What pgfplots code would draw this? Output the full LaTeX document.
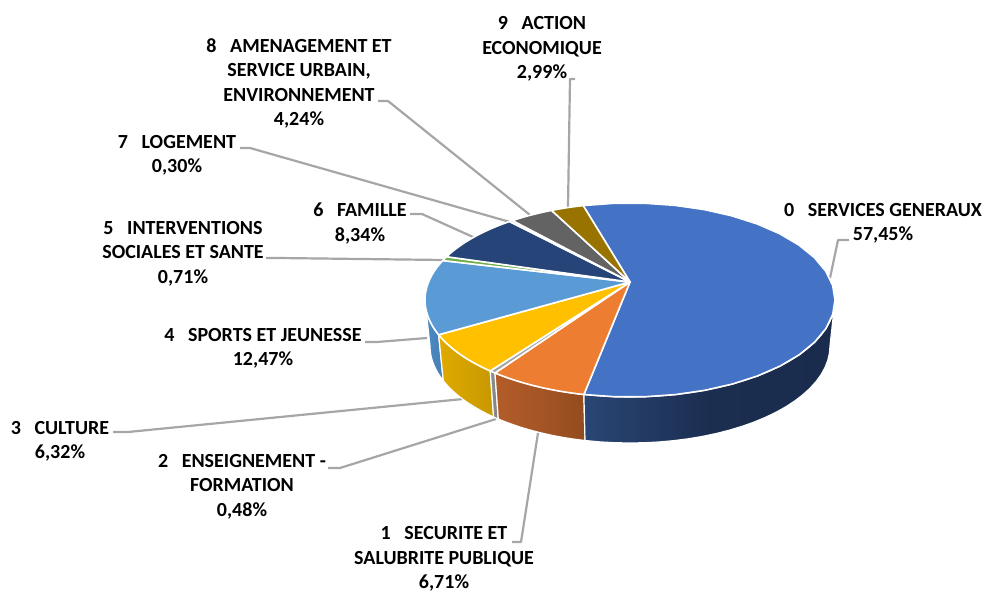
\documentclass[border=0pt]{standalone}
\usepackage{pgfplots}
\pgfplotsset{compat=1.18}
\usepackage{fontspec}
\setmainfont{Carlito}

\definecolor{cServ}{HTML}{4472C4}
\definecolor{cSecu}{HTML}{ED7D31}
\definecolor{cEns}{HTML}{A5A5A5}
\definecolor{cCult}{HTML}{FFC000}
\definecolor{cSport}{HTML}{5B9BD5}
\definecolor{cInter}{HTML}{70AD47}
\definecolor{cFam}{HTML}{264478}
\definecolor{cLog}{HTML}{E9B08C}
\definecolor{cAmen}{HTML}{636363}
\definecolor{cEco}{HTML}{997300}
\definecolor{cLead}{HTML}{A6A6A6}
% wall shades, left, middle and right
\definecolor{wSportA}{HTML}{4C8AC4}
\definecolor{wSportM}{HTML}{4985BC}
\definecolor{wSportB}{HTML}{4680B5}
\definecolor{wCultA}{HTML}{DFAA00}
\definecolor{wCultM}{HTML}{D3A100}
\definecolor{wCultB}{HTML}{C79800}
\definecolor{wEnsA}{HTML}{8F8F8F}
\definecolor{wEnsM}{HTML}{888888}
\definecolor{wEnsB}{HTML}{808080}
\definecolor{wSecuA}{HTML}{B35C28}
\definecolor{wSecuM}{HTML}{A55526}
\definecolor{wSecuB}{HTML}{934C1E}
\definecolor{wServA}{HTML}{2A4675}
\definecolor{wServM}{HTML}{1B2E50}
\definecolor{wServB}{HTML}{1A2C4E}

% top face of one slice, angles in degrees on the projected ellipse
\newcommand{\slicetop}[3]{%
  \gdef\pts{(630,282) }%
  \foreach \k in {0,...,24}{%
    \pgfmathsetmacro\t{#1+(#2-#1)*\k/24}%
    \pgfmathsetmacro\x{630+205*cos(\t)}%
    \pgfmathsetmacro\y{300-97*sin(\t)}%
    \xdef\pts{\pts(\x,\y) }%
  }%
  \edef\tmp{\noexpand\addplot[fill=#3,draw=white,line width=1.6pt,line join=round] coordinates {\pts} --cycle;}\tmp
}
% outer wall of one slice
\newcommand{\sliceside}[5]{%
  \gdef\pts{}%
  \foreach \k in {0,...,24}{%
    \pgfmathsetmacro\t{#1+(#2-#1)*\k/24}%
    \pgfmathsetmacro\x{630+205*cos(\t)}%
    \pgfmathsetmacro\y{300-97*sin(\t)}%
    \xdef\pts{\pts(\x,\y) }%
  }%
  \foreach \k in {24,23,...,0}{%
    \pgfmathsetmacro\t{#1+(#2-#1)*\k/24}%
    \pgfmathsetmacro\x{630+200*cos(\t)}%
    \pgfmathsetmacro\y{346-97*sin(\t)}%
    \xdef\pts{\pts(\x,\y) }%
  }%
  \edef\tmp{\noexpand\addplot[left color=#3,right color=#5,middle color=#4,draw=white,line width=1.2pt,line join=round] coordinates {\pts} --cycle;}\tmp
}
\newcommand{\lead}[1]{\addplot[cLead,line width=2.2pt,line join=round] coordinates {#1};}

\begin{document}
\begin{tikzpicture}
\path[use as bounding box] (0,0) rectangle (985pt,594pt);
\begin{axis}[
    at={(0,0)}, anchor=south west,
    width=985pt, height=594pt, scale only axis,
    xmin=0, xmax=985, ymin=0, ymax=594, y dir=reverse,
    hide axis, clip=false,
]
% leader lines
\lead{(849,240) (838,240) (830,278)}
\lead{(512,542) (521,542) (538,433)}
\lead{(328,468) (340,468) (496,419)}
\lead{(113,432) (128,432) (463,399)}
\lead{(365,342) (377,342) (427,338)}
\lead{(266,258) (278,258) (444,260)}
\lead{(410,214) (422,214) (473,237)}
\lead{(240,148) (250,148) (510,222)}
\lead{(378,101) (388,101) (530,215)}
\lead{(575,79) (570,79) (568,207)}

% walls
\sliceside{180}{201}{wSportA}{wSportM}{wSportB}
\sliceside{201}{227}{wCultA}{wCultM}{wCultB}
\sliceside{227}{228.8}{wEnsA}{wEnsM}{wEnsB}
\sliceside{228.8}{257}{wSecuA}{wSecuM}{wSecuB}
\sliceside{257}{360}{wServA}{wServM}{wServB}

% tops: 0 to 9, clockwise from the top of the pie
\slicetop{103.2}{-103}{cServ}
\slicetop{257}{228.8}{cSecu}
\slicetop{228.8}{227}{cEns}
\slicetop{227}{201}{cCult}
\slicetop{201}{156}{cSport}
\slicetop{156}{153.5}{cInter}
\slicetop{153.5}{126}{cFam}
\slicetop{126}{125}{cLog}
\slicetop{125}{112.5}{cAmen}
\slicetop{112.5}{103.2}{cEco}

% data labels
\tikzset{lab/.style={font=\fontsize{20}{24.3}\selectfont\bfseries,align=center,inner sep=0pt,text=black}}
\node[lab] at (axis cs:883,223.5) {0\ \ \ SERVICES GENERAUX\\57,45\%};
\node[lab] at (axis cs:444,559) {1\ \ \ SECURITE ET\\SALUBRITE PUBLIQUE\\6,71\%};
\node[lab] at (axis cs:242,486.5) {2\ \ \ ENSEIGNEMENT -\\FORMATION\\0,48\%};
\node[lab] at (axis cs:60,441.5) {3\ \ \ CULTURE\\6,32\%};
\node[lab] at (axis cs:263,348.5) {4\ \ \ SPORTS ET JEUNESSE\\12,47\%};
\node[lab] at (axis cs:183,253.5) {5\ \ \ INTERVENTIONS\\SOCIALES ET SANTE\\0,71\%};
\node[lab] at (axis cs:360,223.5) {6\ \ \ FAMILLE\\8,34\%};
\node[lab] at (axis cs:177,155.5) {7\ \ \ LOGEMENT\\0,30\%};
\node[lab] at (axis cs:299,83.5) {8\ \ \ AMENAGEMENT ET\\SERVICE URBAIN,\\ENVIRONNEMENT\\4,24\%};
\node[lab] at (axis cs:542,49) {9\ \ \ ACTION\\ECONOMIQUE\\2,99\%};
\end{axis}
\end{tikzpicture}
\end{document}
